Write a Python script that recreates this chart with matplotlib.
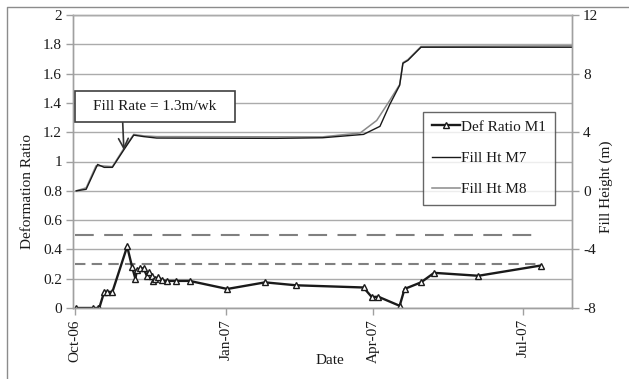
import matplotlib
matplotlib.use("Agg")
import matplotlib.pyplot as plt
import matplotlib.dates as mdates
from matplotlib.patches import Rectangle
from matplotlib.lines import Line2D
import pandas as pd

plt.rcParams['font.family'] = ['Liberation Serif', 'DejaVu Serif']

# ---------------- data ----------------
def_dates = ["2006-10-02", "2006-10-12", "2006-10-15", "2006-10-16", "2006-10-19",
             "2006-10-21", "2006-10-24", "2006-11-02", "2006-11-05", "2006-11-07",
             "2006-11-08", "2006-11-10", "2006-11-12", "2006-11-14", "2006-11-15",
             "2006-11-17", "2006-11-18", "2006-11-19", "2006-11-21", "2006-11-23",
             "2006-11-26", "2006-12-02", "2006-12-10", "2007-01-02", "2007-01-25",
             "2007-02-13", "2007-03-26", "2007-03-31", "2007-04-04", "2007-04-17",
             "2007-04-20", "2007-04-30", "2007-05-08", "2007-06-04", "2007-07-12"]
def_ratio_m1 = [0.00, 0.00, 0.00, 0.00, 0.11,
                0.11, 0.11, 0.42, 0.28, 0.20,
                0.26, 0.27, 0.27, 0.22, 0.245,
                0.22, 0.185, 0.20, 0.21, 0.19,
                0.185, 0.185, 0.185, 0.13, 0.175,
                0.155, 0.14, 0.075, 0.077, 0.015,
                0.13, 0.175, 0.24, 0.22, 0.29]

m7_dates = ["2006-10-02", "2006-10-08", "2006-10-15", "2006-10-19", "2006-10-24",
            "2006-10-31", "2006-11-06", "2006-11-12", "2006-11-20", "2007-02-01",
            "2007-03-01", "2007-03-26", "2007-04-05", "2007-04-11", "2007-04-17",
            "2007-04-19", "2007-04-22", "2007-04-30", "2007-07-31"]
fill_ht_m7 = [0.0, 0.1, 1.8, 1.6, 1.6,
              2.8, 3.8, 3.7, 3.6, 3.58,
              3.62, 3.85, 4.4, 5.9, 7.2,
              8.7, 8.9, 9.8, 9.8]

m8_dates = ["2006-10-02", "2006-10-08", "2006-10-14", "2006-10-18", "2006-10-24",
            "2006-10-31", "2006-11-06", "2006-11-12", "2006-11-20", "2007-03-01",
            "2007-03-24", "2007-04-03", "2007-04-10", "2007-04-17", "2007-04-19",
            "2007-04-22", "2007-04-30", "2007-07-31"]
fill_ht_m8 = [0.0, 0.2, 1.7, 1.7, 1.65,
              2.9, 3.85, 3.75, 3.7, 3.68,
              3.95, 4.8, 6.0, 7.25, 8.75,
              8.95, 9.85, 9.9]

limit_dates = ["2006-10-01", "2007-07-12"]
limit_upper = [0.5, 0.5]
limit_lower = [0.3, 0.3]

left_ticks = [0, 0.2, 0.4, 0.6, 0.8, 1.0, 1.2, 1.4, 1.6, 1.8, 2.0]
left_labels = ["0", "0.2", "0.4", "0.6", "0.8", "1", "1.2", "1.4", "1.6", "1.8", "2"]
right_ticks = [-8, -4, 0, 4, 8, 12]
right_labels = ["-8", "-4", "0", "4", "8", "12"]
x_ticks = ["2006-10-01", "2007-01-01", "2007-04-01", "2007-07-01"]
x_labels = ["Oct-06", "Jan-07", "Apr-07", "Jul-07"]
x_range = ["2006-09-30", "2007-07-31"]

annot_text = "Fill Rate = 1.3m/wk"
annot_point = ("2006-10-31", 2.78)

# ---------------- figure ----------------
W, H = 629, 379
fig = plt.figure(figsize=(W / 100, H / 100), dpi=100)
fig.patch.set_facecolor('white')

L, R, T, B = 73, 572, 15, 308
ax = fig.add_axes([L / W, 1 - B / H, (R - L) / W, (B - T) / H])
ax2 = ax.twinx()

txt = '#1a1a1a'
gridc = '#ababab'
spc = '#a0a0a0'

d = pd.to_datetime
ax.set_xlim(d(x_range[0]), d(x_range[1]))
ax.set_ylim(0, 2)
ax2.set_ylim(-8, 12)

ax.set_yticks(left_ticks)
ax.set_yticklabels(left_labels)
ax2.set_yticks(right_ticks)
ax2.set_yticklabels(right_labels)
ax.set_xticks(d(x_ticks))
ax.set_xticklabels(x_labels, rotation=90)

ax.yaxis.grid(True, color=gridc, lw=1)
ax.set_axisbelow(True)

for a in (ax, ax2):
    for s in a.spines.values():
        s.set_color(spc)
        s.set_linewidth(1)
    a.spines['top'].set_color(gridc)
    a.tick_params(colors=spc, labelcolor=txt, labelsize=11, length=5, width=1, pad=3)

# limit lines
ax.plot(d(limit_dates), limit_upper, color='#808080', lw=1.5, dashes=(9, 5))
ax.plot(d(limit_dates), limit_lower, color='#808080', lw=1.5, dashes=(5, 3))

# deformation ratio
h1, = ax.plot(d(def_dates), def_ratio_m1, color=txt, lw=1.7, marker='^', ms=4.8,
              mfc='white', mec=txt, mew=1.0, label='Def Ratio M1')

# fill heights
h3, = ax2.plot(d(m8_dates), fill_ht_m8, color='#8a8a8a', lw=1.1, label='Fill Ht M8')
h2, = ax2.plot(d(m7_dates), fill_ht_m7, color='#1a1a1a', lw=1.0, label='Fill Ht M7')

leg = ax2.legend([h1, h2, h3], ['Def Ratio M1', 'Fill Ht M7', 'Fill Ht M8'],
                 loc='upper left', bbox_to_anchor=(423.3 / W, 1 - 111.7 / H),
                 bbox_transform=fig.transFigure, borderaxespad=0, fancybox=False,
                 frameon=True, fontsize=11, handlelength=1.85, handletextpad=0.1,
                 labelspacing=1.15, borderpad=0.55, markerscale=0.8)
leg.get_frame().set_edgecolor('#404040')
leg.get_frame().set_linewidth(1.0)
for t in leg.get_texts():
    t.set_color(txt)

# axis titles
fig.text(28 / W, 1 - 191.7 / H, "Deformation Ratio", rotation=90, ha='center',
         va='center', fontsize=11, color=txt)
fig.text(606 / W, 1 - 187 / H, "Fill Height (m)", rotation=90, ha='center',
         va='center', fontsize=11, color=txt)
fig.text(330 / W, 1 - 360 / H, "Date", ha='center', va='center', fontsize=11, color=txt)

# annotation box and arrow
bx0, bx1, by0, by1 = 75, 235, 90.7, 122.3
fig.add_artist(Rectangle((bx0 / W, 1 - by1 / H), (bx1 - bx0) / W, (by1 - by0) / H,
                         transform=fig.transFigure, facecolor='white',
                         edgecolor='#404040', lw=1.2, zorder=5))
fig.text((bx0 + bx1) / 2 / W, 1 - (by0 + by1) / 2 / H, annot_text, ha='center',
         va='center', fontsize=11, color=txt, zorder=6)
ax2.annotate('', xy=(d(annot_point[0]), annot_point[1]),
             xytext=(122.7 / W, 1 - by1 / H), textcoords='figure fraction',
             arrowprops=dict(arrowstyle='->,head_length=0.5,head_width=0.25',
                             color='#333333', lw=1.2, mutation_scale=14,
                             shrinkA=0, shrinkB=0))

# outer chart border
fig.add_artist(Line2D([7 / W, 7 / W, 1.0], [0.0, 1 - 7 / H, 1 - 7 / H],
                      transform=fig.transFigure, color='#8c8c8c', lw=1.0))

fig.savefig("out.png", dpi=100, facecolor='white')
